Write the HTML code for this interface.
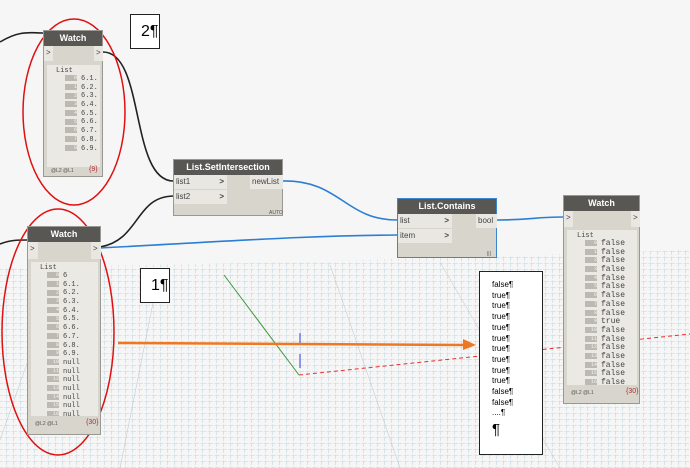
<!DOCTYPE html>
<html><head><meta charset="utf-8"><style>
body{margin:0;width:690px;height:468px;overflow:hidden;background:#f6f6f6;font-family:"Liberation Sans",sans-serif;position:relative}
.a{position:absolute}
.node{position:absolute;background:#d8d5cd;border:1px solid #9a9892;box-sizing:border-box}
.hd{background:#595754;color:#fff;font-weight:bold;font-size:9px;text-align:center;height:15px;line-height:15px}
.port{position:absolute;background:#e9e7e2;font-size:8px;color:#444;line-height:14px;padding-left:2px;box-sizing:border-box}
.lp{position:absolute;background:#ebe9e4;font-family:"Liberation Mono",monospace;font-size:7px;color:#444;overflow:hidden}
.r{height:8.7px;line-height:8.7px;white-space:nowrap}
.ix{display:inline-block;background:#bcb9b2;color:#f4f4f4;width:12px;height:6px;line-height:6px;text-align:right;margin-right:4px;font-size:5px;vertical-align:middle}
.ft{position:absolute;font-size:5px;color:#555}
.box{position:absolute;background:#fff;border:1px solid #222;box-sizing:border-box}
</style></head><body>
<svg class="a" style="left:0;top:0" width="690" height="468">
<defs><pattern id="g" width="7" height="6" patternUnits="userSpaceOnUse"><path d="M0 5.5H7M6.5 0V6" stroke="#cfe0e8" stroke-width="0.8" stroke-dasharray="3 1.5"/></pattern></defs>
<polygon points="0,268 300,262 690,250 690,468 0,468" fill="url(#g)"/>
<g stroke="#bcc5ca" stroke-width="0.5"><line x1="60" y1="270" x2="0" y2="440"/><line x1="160" y1="268" x2="120" y2="468"/><line x1="330" y1="265" x2="400" y2="468"/><line x1="440" y1="262" x2="560" y2="468"/></g>
<line x1="224" y1="275" x2="299" y2="375" stroke="#3a9a3a" stroke-width="1"/>
<line x1="299" y1="375" x2="690" y2="334" stroke="#e83030" stroke-width="1" stroke-dasharray="4 3"/>
<line x1="300" y1="333" x2="300" y2="343" stroke="#3344dd" stroke-width="1"/>
<line x1="300" y1="354" x2="300" y2="368" stroke="#3344dd" stroke-width="1"/>
<line x1="118" y1="343" x2="465" y2="345" stroke="#ee7722" stroke-width="2.5"/>
<polygon points="463,339 476,345 463,350" fill="#ee7722"/>
<g fill="none" stroke-width="1.6">
<path d="M0 42 C20 30 30 33 43 33" stroke="#222"/>
<path d="M103 52 C145 52 130 180 173 181" stroke="#222"/>
<path d="M100 247 C140 240 135 197 173 196" stroke="#222"/>
<path d="M0 244 C10 240 18 240 27 240" stroke="#222"/>
<path d="M100 248 C250 240 300 236 397 235" stroke="#2a7fd4"/>
<path d="M283 181 C340 180 345 220 397 220" stroke="#2a7fd4"/>
<path d="M497 220 C530 220 535 217 563 217" stroke="#2a7fd4"/>
</g>
<ellipse cx="74" cy="112" rx="51" ry="93" fill="none" stroke="#e01010" stroke-width="1.5"/>
<ellipse cx="58" cy="332" rx="56" ry="123" fill="none" stroke="#e01010" stroke-width="1.5"/>
</svg>

<div class="node" style="left:43px;top:30px;width:60px;height:147px"><div class="hd">Watch</div>
<div class="port" style="left:0;top:15px;width:9px;height:15px">&gt;</div><div class="port" style="left:50px;top:15px;width:9px;height:15px">&gt;</div>
<div class="lp" style="left:3px;top:34px;width:53px;height:102px"><div style="padding:2px 0 0 9px">List</div>
<div style="padding-left:18px"><div class="r"><span class="ix">0</span>6.1.</div><div class="r"><span class="ix">1</span>6.2.</div><div class="r"><span class="ix">2</span>6.3.</div><div class="r"><span class="ix">3</span>6.4.</div><div class="r"><span class="ix">4</span>6.5.</div><div class="r"><span class="ix">5</span>6.6.</div><div class="r"><span class="ix">6</span>6.7.</div><div class="r"><span class="ix">7</span>6.8.</div><div class="r"><span class="ix">8</span>6.9.</div></div></div>
<div class="ft" style="left:7px;top:137px">@L2 @L1</div><div class="ft" style="left:45px;top:135px;font-size:7px;color:#a33">{9}</div></div>

<div class="node" style="left:27px;top:226px;width:74px;height:209px"><div class="hd">Watch</div>
<div class="port" style="left:0;top:15px;width:10px;height:17px">&gt;</div><div class="port" style="left:63px;top:15px;width:10px;height:17px">&gt;</div>
<div class="lp" style="left:3px;top:35px;width:67px;height:154px"><div style="padding:2px 0 0 9px">List</div>
<div style="padding-left:16px"><div class="r"><span class="ix">0</span>6</div><div class="r"><span class="ix">1</span>6.1.</div><div class="r"><span class="ix">2</span>6.2.</div><div class="r"><span class="ix">3</span>6.3.</div><div class="r"><span class="ix">4</span>6.4.</div><div class="r"><span class="ix">5</span>6.5.</div><div class="r"><span class="ix">6</span>6.6.</div><div class="r"><span class="ix">7</span>6.7.</div><div class="r"><span class="ix">8</span>6.8.</div><div class="r"><span class="ix">9</span>6.9.</div><div class="r"><span class="ix">10</span>null</div><div class="r"><span class="ix">11</span>null</div><div class="r"><span class="ix">12</span>null</div><div class="r"><span class="ix">13</span>null</div><div class="r"><span class="ix">14</span>null</div><div class="r"><span class="ix">15</span>null</div><div class="r"><span class="ix">16</span>null</div></div></div>
<div class="ft" style="left:7px;top:194px">@L2 @L1</div><div class="ft" style="left:58px;top:192px;font-size:7px;color:#a33">{30}</div></div>

<div class="node" style="left:173px;top:159px;width:110px;height:57px"><div class="hd">List.SetIntersection</div>
<div class="port" style="left:0;top:15px;width:53px;height:14px">list1<span style="float:right;margin-right:3px;font-weight:bold">&gt;</span></div>
<div class="port" style="left:0;top:30px;width:53px;height:14px">list2<span style="float:right;margin-right:3px;font-weight:bold">&gt;</span></div>
<div class="port" style="left:76px;top:15px;width:33px;height:14px">newList</div>
<div class="ft" style="left:95px;top:50px">AUTO</div></div>

<div class="node" style="left:397px;top:198px;width:100px;height:60px;border-color:#3a86d0"><div class="hd">List.Contains</div>
<div class="port" style="left:0;top:15px;width:54px;height:14px">list<span style="float:right;margin-right:3px;font-weight:bold">&gt;</span></div>
<div class="port" style="left:0;top:30px;width:54px;height:14px">item<span style="float:right;margin-right:3px;font-weight:bold">&gt;</span></div>
<div class="port" style="left:78px;top:15px;width:21px;height:14px">bool</div>
<div class="ft" style="left:89px;top:52px">|||</div></div>

<div class="node" style="left:563px;top:195px;width:77px;height:209px"><div class="hd">Watch</div>
<div class="port" style="left:0;top:15px;width:9px;height:16px">&gt;</div><div class="port" style="left:67px;top:15px;width:9px;height:16px">&gt;</div>
<div class="lp" style="left:3px;top:34px;width:70px;height:155px"><div style="padding:2px 0 0 10px">List</div>
<div style="padding-left:18px;font-size:8px"><div class="r"><span class="ix">0</span>false</div><div class="r"><span class="ix">1</span>false</div><div class="r"><span class="ix">2</span>false</div><div class="r"><span class="ix">3</span>false</div><div class="r"><span class="ix">4</span>false</div><div class="r"><span class="ix">5</span>false</div><div class="r"><span class="ix">6</span>false</div><div class="r"><span class="ix">7</span>false</div><div class="r"><span class="ix">8</span>false</div><div class="r"><span class="ix">9</span>true</div><div class="r"><span class="ix">10</span>false</div><div class="r"><span class="ix">11</span>false</div><div class="r"><span class="ix">12</span>false</div><div class="r"><span class="ix">13</span>false</div><div class="r"><span class="ix">14</span>false</div><div class="r"><span class="ix">15</span>false</div><div class="r"><span class="ix">16</span>false</div></div></div>
<div class="ft" style="left:7px;top:194px">@L2 @L1</div><div class="ft" style="left:62px;top:192px;font-size:7px;color:#a33">{30}</div></div>

<div class="box" style="left:130px;top:14px;width:30px;height:35px;font-size:16px;padding:8px 0 0 10px">2¶</div>
<div class="box" style="left:140px;top:268px;width:30px;height:35px;font-size:16px;padding:8px 0 0 10px">1¶</div>
<div class="box" style="left:479px;top:271px;width:64px;height:184px;font-size:8px;line-height:10.7px;padding:8px 0 0 12px">false¶<br>true¶<br>true¶<br>true¶<br>true¶<br>true¶<br>true¶<br>true¶<br>true¶<br>true¶<br>false¶<br>false¶<br>....¶<br><span style="font-size:15px;line-height:22px">¶</span></div>
</body></html>
